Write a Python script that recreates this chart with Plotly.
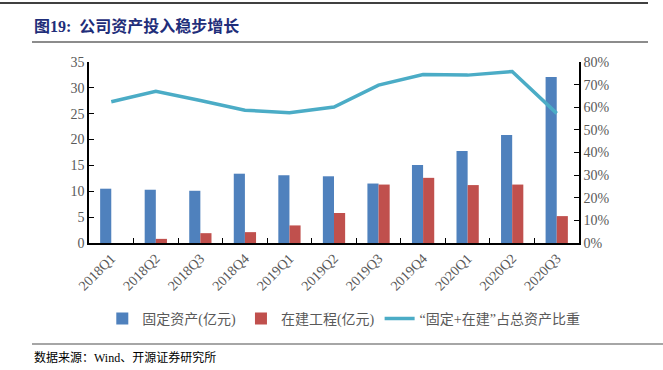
import plotly.graph_objects as go

quarters = ["2018Q1","2018Q2","2018Q3","2018Q4","2019Q1","2019Q2","2019Q3","2019Q4","2020Q1","2020Q2","2020Q3"]
fixed_assets = [10.5, 10.3, 10.1, 13.4, 13.1, 12.9, 11.5, 15.1, 17.8, 20.9, 32.1]
construction = [0.0, 0.8, 1.9, 2.1, 3.4, 5.8, 11.3, 12.6, 11.2, 11.3, 5.2]
share_pct = [0.624, 0.670, 0.630, 0.587, 0.576, 0.601, 0.698, 0.745, 0.742, 0.758, 0.573]
left_ticks = [0, 5, 10, 15, 20, 25, 30, 35]
right_ticks = [0, 0.1, 0.2, 0.3, 0.4, 0.5, 0.6, 0.7, 0.8]

FONT = "Liberation Serif, Times New Roman, Noto Sans CJK SC, serif"
GRAY = "#595959"

fig = go.Figure()
fig.add_trace(go.Bar(x=quarters, y=fixed_assets, name="固定资产(亿元)",
                     marker=dict(color="#4F81BD", line=dict(width=0))))
fig.add_trace(go.Bar(x=quarters, y=construction, name="在建工程(亿元)",
                     marker=dict(color="#C0504D", line=dict(width=0))))
fig.add_trace(go.Scatter(x=quarters, y=share_pct, name="“固定+在建”占总资产比重",
                         mode="lines", line=dict(color="#4BACC6", width=3.5), yaxis="y2"))

fig.update_layout(
    width=663, height=370,
    margin=dict(l=89, r=84, t=62, b=127),
    paper_bgcolor="white", plot_bgcolor="white",
    barmode="group", bargap=0.5, bargroupgap=0,
    font=dict(family=FONT, color=GRAY, size=13),
    showlegend=True,
    legend=dict(orientation="h", x=0.52, xanchor="center", y=-0.42, yanchor="middle",
                font=dict(family=FONT, size=14, color=GRAY), itemwidth=30,
                traceorder="normal", tracegroupgap=0),
    xaxis=dict(type="category", showline=True, linecolor="black", linewidth=1.5,
               ticks="inside", ticklen=5, tickcolor="black", tickson="boundaries",
               tickangle=-45, tickfont=dict(size=14, color=GRAY, family=FONT),
               showgrid=False, zeroline=False, mirror=False),
    yaxis=dict(range=[0, 35], tickvals=left_ticks, showline=True, linecolor="black",
               linewidth=1.5, ticks="inside", ticklen=5, tickcolor="black",
               showgrid=False, zeroline=False, tickfont=dict(size=14, color=GRAY, family=FONT)),
    yaxis2=dict(range=[0, 0.8], tickvals=right_ticks, tickformat=".0%", overlaying="y",
                side="right", showline=True, linecolor="black", linewidth=1.5,
                ticks="inside", ticklen=5, tickcolor="black", showgrid=False, zeroline=False,
                tickfont=dict(size=14, color=GRAY, family=FONT)),
)

# Header and footer decorations
fig.add_shape(type="line", xref="paper", yref="paper", x0=-89/490, x1=(648-89)/490,
              y0=(370-127-3)/181, y1=(370-127-3)/181, line=dict(color="black", width=1.5))
fig.add_shape(type="line", xref="paper", yref="paper", x0=(32-89)/490, x1=(648-89)/490,
              y0=(243-42)/181, y1=(243-42)/181, line=dict(color="#8C8C8C", width=2))
fig.add_shape(type="line", xref="paper", yref="paper", x0=(32-89)/490, x1=(663-89)/490,
              y0=(243-344)/181, y1=(243-344)/181, line=dict(color="#A6A6A6", width=2))
fig.add_annotation(text="<b>图19:  公司资产投入稳步增长</b>", xref="paper", yref="paper",
                   x=(32-89)/490, y=(243-26)/181, xanchor="left", yanchor="middle",
                   showarrow=False, font=dict(family=FONT, size=16, color="#1F2E7A"))
fig.add_annotation(text="数据来源：Wind、开源证券研究所", xref="paper", yref="paper",
                   x=(32-89)/490, y=(243-357)/181, xanchor="left", yanchor="middle",
                   showarrow=False, font=dict(family=FONT, size=12, color="black"))

fig.write_html("out.html", config={"displayModeBar": False},
               post_script="document.body.style.margin='0';")
